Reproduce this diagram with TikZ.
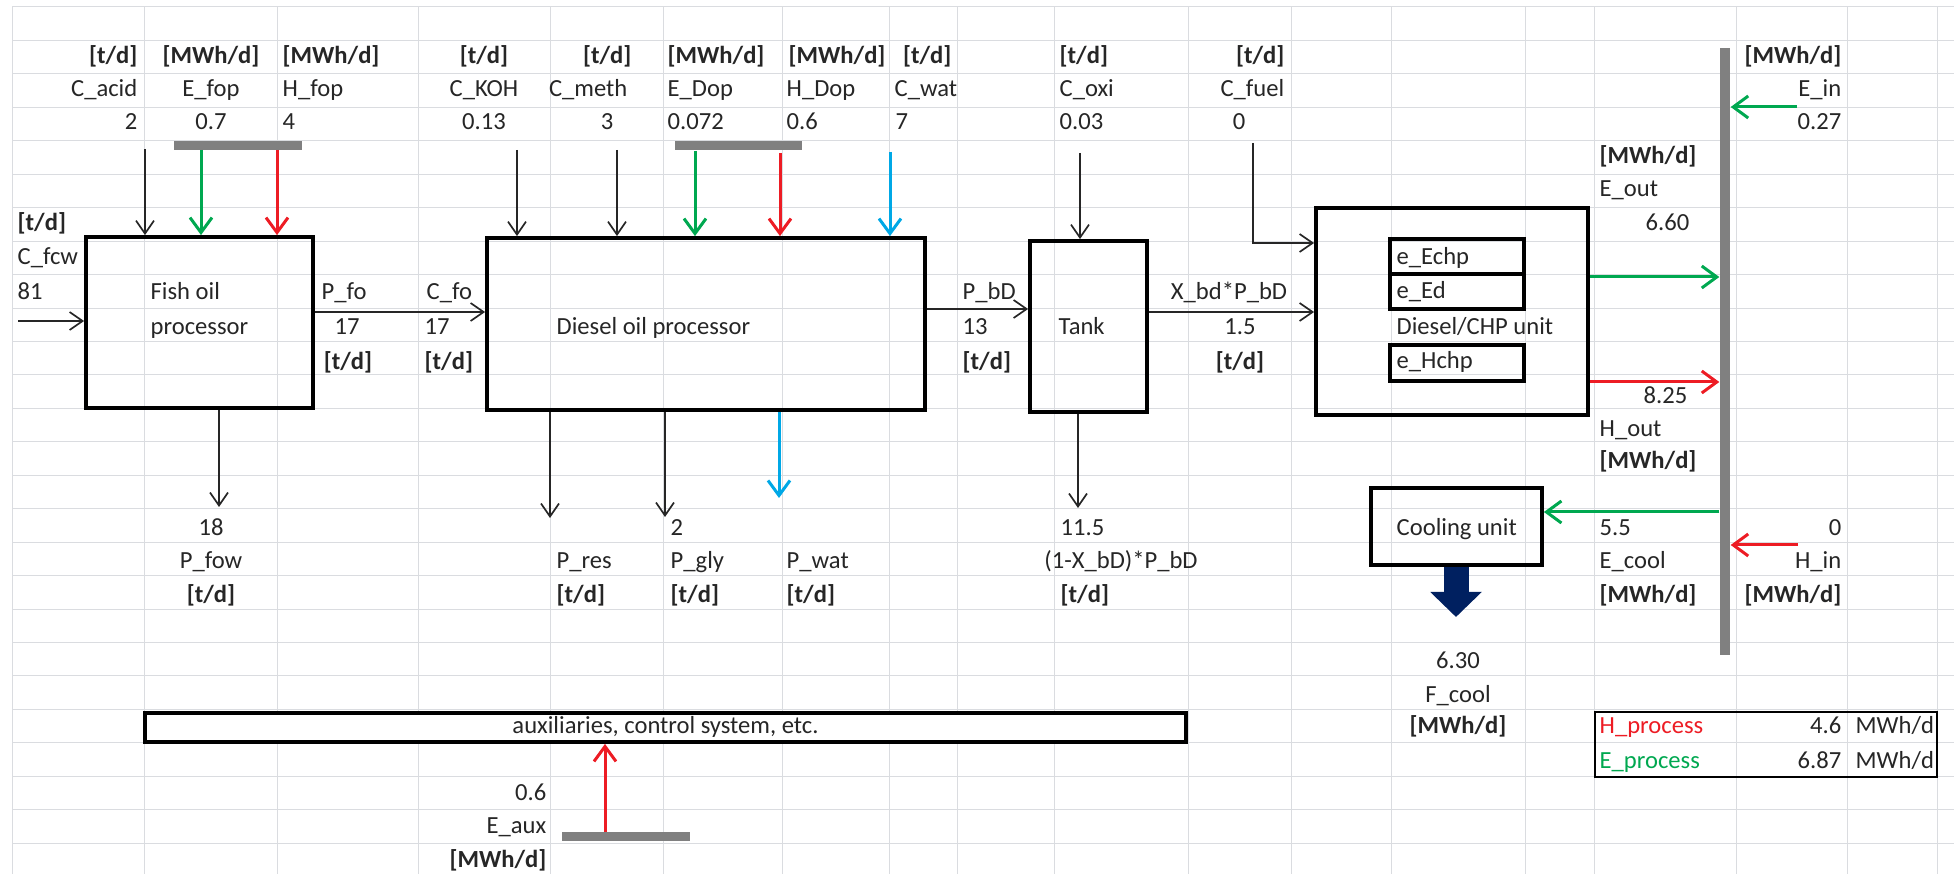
\documentclass[tikz,border=0pt]{standalone}
\usepackage{fontspec}
\setmainfont{Carlito}
\usetikzlibrary{arrows.meta,positioning,calc}
\definecolor{BdInk}{RGB}{38,38,38}
\definecolor{BdGrid}{RGB}{218,220,224}
\definecolor{BdBar}{RGB}{128,128,128}
\definecolor{BdGreen}{RGB}{0,168,80}
\definecolor{BdRed}{RGB}{237,28,36}
\definecolor{BdBlue}{RGB}{0,168,230}
\definecolor{BdNavy}{RGB}{0,32,96}
\tikzset{
  bd/grid/.style={draw=BdGrid, line width=0.1mm},
  bd/box/.style={draw=black, line width=0.38mm, inner sep=0pt},
  bd/cell/.style={
    inner sep=0pt,
    text height=1.65mm,
    text depth=0.5mm,
    text=BdInk,
    font=\fontsize{7}{8}\selectfont
  },
  bd/unit/.style={bd/cell, font=\fontsize{7}{8}\selectfont\bfseries},
  bd/bar/.style={fill=BdBar, inner sep=0pt, minimum height=0.9mm},
  bd/arrow/.style={-{Straight Barb[length=1.3mm,width=1.8mm]}, line width=0.17mm, draw=BdInk},
  bd/green/.style={-{Straight Barb[length=1.5mm,width=2.2mm]}, line width=0.3mm, draw=BdGreen},
  bd/red/.style={bd/green, draw=BdRed},
  bd/blue/.style={bd/green, draw=BdBlue},
  bd/cold/.style={-{Triangle[length=2.5mm,width=5mm]}, line width=2.5mm, draw=BdNavy}
}
\begin{document}
\begin{tikzpicture}[x=0.1mm,y=-0.1mm]
  \useasboundingbox (0,0) rectangle (1954,874);
  \foreach \gx in {12,144,277,418,550,663,782,889,957,1054,1188,1291,1391,1525,1594,1736,1847,1937}
    \draw[bd/grid] (\gx,7) -- (\gx,874);
  \foreach \k in {0,...,25}
    \draw[bd/grid] (12,{7+33.45*\k}) -- (1954,{7+33.45*\k});

  \node[bd/box, minimum width=22.7mm, minimum height=17.1mm] (fop) at (199.5,322.5) {};
  \node[bd/box, minimum width=43.8mm, minimum height=17.2mm] (dop) at (706,324) {};
  \node[bd/box, minimum width=11.7mm, minimum height=17.1mm] (tank) at (1088.5,326.5) {};
  \node[bd/box, minimum width=27.2mm, minimum height=20.7mm] (chp) at (1452,311.5) {};
  \node[bd/box, minimum width=13.4mm, minimum height=3.5mm] (echp) at (1457,256.5) {};
  \node[bd/box, minimum width=13.4mm, minimum height=3.5mm] (ed) at (1457,291.5) {};
  \node[bd/box, minimum width=13.4mm, minimum height=3.6mm] (hchp) at (1457,363) {};
  \node[bd/box, minimum width=17.1mm, minimum height=7.7mm] (cool) at (1456.5,526.5) {};
  \node[bd/cell, bd/box, fill=white, minimum width=104.1mm, minimum height=2.9mm] (aux) at (665.5,727.5) {auxiliaries, control system, etc.};
  \node[bd/box, line width=0.22mm, minimum width=34.2mm, minimum height=6.5mm] (legend) at (1766,744.5) {};

  \node[bd/bar, minimum width=12.8mm] (fopbar) at (238,146) {};
  \node[bd/bar, minimum width=12.7mm] (dopbar) at (738.5,146) {};
  \node[bd/bar, minimum width=12.8mm] (auxbar) at (626,836) {};
  \node[fill=BdBar, inner sep=0pt, minimum width=1mm, minimum height=60.7mm] (busbar) at (1725,351.5) {};

  \node[bd/cell, anchor=west] (fop-t1) at (150,294) {Fish oil};
  \node[bd/cell, anchor=west] (fop-t2) at (150,329) {processor};
  \node[bd/cell, anchor=west] (dop-t) at (556,329) {Diesel oil processor};
  \node[bd/cell, anchor=west] (tank-t) at (1058,329) {Tank};
  \node[bd/cell, anchor=west] (echp-t) at (1396,259) {e\_Echp};
  \node[bd/cell, anchor=west] (ed-t) at (1396,293) {e\_Ed};
  \node[bd/cell, anchor=west] (chp-t) at (1396,329) {Diesel/CHP unit};
  \node[bd/cell, anchor=west] (hchp-t) at (1396,363) {e\_Hchp};
  \node[bd/cell, anchor=west] (cool-t) at (1396,530) {Cooling unit};

  \node[bd/unit, anchor=east] (cacid-u) at (138,58) {[t/d]};
  \node[bd/cell, anchor=east] (cacid-n) at (138,91) {C\_acid};
  \node[bd/cell, anchor=east] (cacid-v) at (138,124) {2};
  \node[bd/unit] (efop-u) at (211,58) {[MWh/d]};
  \node[bd/cell] (efop-n) at (211,91) {E\_fop};
  \node[bd/cell] (efop-v) at (211,124) {0.7};
  \node[bd/unit, anchor=west] (hfop-u) at (282,58) {[MWh/d]};
  \node[bd/cell, anchor=west] (hfop-n) at (282,91) {H\_fop};
  \node[bd/cell, anchor=west] (hfop-v) at (282,124) {4};
  \node[bd/unit] (ckoh-u) at (484,58) {[t/d]};
  \node[bd/cell] (ckoh-n) at (484,91) {C\_KOH};
  \node[bd/cell] (ckoh-v) at (484,124) {0.13};
  \node[bd/unit, anchor=east] (cmeth-u) at (632,58) {[t/d]};
  \node[bd/cell, anchor=east] (cmeth-n) at (628,91) {C\_meth};
  \node[bd/cell] (cmeth-v) at (607,124) {3};
  \node[bd/unit, anchor=west] (edop-u) at (667,58) {[MWh/d]};
  \node[bd/cell, anchor=west] (edop-n) at (667,91) {E\_Dop};
  \node[bd/cell, anchor=west] (edop-v) at (667,124) {0.072};
  \node[bd/unit, anchor=west] (hdop-u) at (788,58) {[MWh/d]};
  \node[bd/cell, anchor=west] (hdop-n) at (786,91) {H\_Dop};
  \node[bd/cell, anchor=west] (hdop-v) at (786,124) {0.6};
  \node[bd/unit, anchor=east] (cwat-u) at (952,58) {[t/d]};
  \node[bd/cell, anchor=west] (cwat-n) at (894,91) {C\_wat};
  \node[bd/cell, anchor=west] (cwat-v) at (895,124) {7};
  \node[bd/unit, anchor=west] (coxi-u) at (1059,58) {[t/d]};
  \node[bd/cell, anchor=west] (coxi-n) at (1059,91) {C\_oxi};
  \node[bd/cell, anchor=west] (coxi-v) at (1059,124) {0.03};
  \node[bd/unit, anchor=east] (cfuel-u) at (1285,58) {[t/d]};
  \node[bd/cell, anchor=east] (cfuel-n) at (1285,91) {C\_fuel};
  \node[bd/cell] (cfuel-v) at (1239,124) {0};
  \node[bd/unit, anchor=east] (ein-u) at (1842,58) {[MWh/d]};
  \node[bd/cell, anchor=east] (ein-n) at (1842,91) {E\_in};
  \node[bd/cell, anchor=east] (ein-v) at (1842,124) {0.27};
  \node[bd/unit, anchor=west] (eout-u) at (1599,158) {[MWh/d]};
  \node[bd/cell, anchor=west] (eout-n) at (1599,191) {E\_out};
  \node[bd/cell, anchor=east] (eout-v) at (1690,225) {6.60};

  \node[bd/unit, anchor=west] (cfcw-u) at (17,225) {[t/d]};
  \node[bd/cell, anchor=west] (cfcw-n) at (17,259) {C\_fcw};
  \node[bd/cell, anchor=west] (cfcw-v) at (17,294) {81};
  \node[bd/cell, anchor=west] (pfo-n) at (321,294) {P\_fo};
  \node[bd/cell] (pfo-v) at (347,329) {17};
  \node[bd/unit] (pfo-u) at (348,364) {[t/d]};
  \node[bd/cell, anchor=west] (cfo-n) at (426,294) {C\_fo};
  \node[bd/cell, anchor=west] (cfo-v) at (424,329) {17};
  \node[bd/unit, anchor=west] (cfo-u) at (424,364) {[t/d]};
  \node[bd/cell, anchor=west] (pbd-n) at (962,294) {P\_bD};
  \node[bd/cell, anchor=west] (pbd-v) at (962,329) {13};
  \node[bd/unit, anchor=west] (pbd-u) at (962,364) {[t/d]};
  \node[bd/cell] (xbd-n) at (1229,294) {X\_bd*P\_bD};
  \node[bd/cell] (xbd-v) at (1240,329) {1.5};
  \node[bd/unit] (xbd-u) at (1240,364) {[t/d]};
  \node[bd/cell, anchor=east] (hout-v) at (1688,398) {8.25};
  \node[bd/cell, anchor=west] (hout-n) at (1599,431) {H\_out};
  \node[bd/unit, anchor=west] (hout-u) at (1599,463) {[MWh/d]};

  \node[bd/cell] (pfow-v) at (211,530) {18};
  \node[bd/cell] (pfow-n) at (211,563) {P\_fow};
  \node[bd/unit] (pfow-u) at (211,597) {[t/d]};
  \node[bd/cell, anchor=west] (pres-n) at (556,563) {P\_res};
  \node[bd/unit, anchor=west] (pres-u) at (556,597) {[t/d]};
  \node[bd/cell, anchor=west] (pgly-v) at (670,530) {2};
  \node[bd/cell, anchor=west] (pgly-n) at (670,563) {P\_gly};
  \node[bd/unit, anchor=west] (pgly-u) at (670,597) {[t/d]};
  \node[bd/cell, anchor=west] (pwat-n) at (786,563) {P\_wat};
  \node[bd/unit, anchor=west] (pwat-u) at (786,597) {[t/d]};
  \node[bd/cell, anchor=west] (rest-v) at (1060,530) {11.5};
  \node[bd/cell] (rest-n) at (1121,563) {(1-X\_bD)*P\_bD};
  \node[bd/unit, anchor=west] (rest-u) at (1060,597) {[t/d]};
  \node[bd/cell, anchor=west] (ecool-v) at (1599,530) {5.5};
  \node[bd/cell, anchor=west] (ecool-n) at (1599,563) {E\_cool};
  \node[bd/unit, anchor=west] (ecool-u) at (1599,597) {[MWh/d]};
  \node[bd/cell, anchor=east] (hin-v) at (1842,530) {0};
  \node[bd/cell, anchor=east] (hin-n) at (1842,563) {H\_in};
  \node[bd/unit, anchor=east] (hin-u) at (1842,597) {[MWh/d]};
  \node[bd/cell] (fcool-v) at (1458,663) {6.30};
  \node[bd/cell] (fcool-n) at (1458,697) {F\_cool};
  \node[bd/unit] (fcool-u) at (1458,728) {[MWh/d]};
  \node[bd/cell, anchor=east] (eaux-v) at (547,795) {0.6};
  \node[bd/cell, anchor=east] (eaux-n) at (547,828) {E\_aux};
  \node[bd/unit, anchor=east] (eaux-u) at (547,862) {[MWh/d]};

  \node[bd/cell, anchor=west, text=BdRed] (hproc-n) at (1599,728) {H\_process};
  \node[bd/cell, anchor=east] (hproc-v) at (1842,728) {4.6};
  \node[bd/cell, anchor=west] (hproc-u) at (1855,728) {MWh/d};
  \node[bd/cell, anchor=west, text=BdGreen] (eproc-n) at (1599,763) {E\_process};
  \node[bd/cell, anchor=east] (eproc-v) at (1842,763) {6.87};
  \node[bd/cell, anchor=west] (eproc-u) at (1855,763) {MWh/d};

  \coordinate (acidsrc) at (145,149);
  \coordinate (fcwsrc) at (18,321);
  \coordinate (pforow) at (400,312);
  \coordinate (fowend) at (219,507);
  \coordinate (kohsrc) at (517,150);
  \coordinate (methsrc) at (617,150);
  \coordinate (resend) at (550,518);
  \coordinate (glyend) at (665,517);
  \coordinate (watend) at (779,498);
  \coordinate (pbdrow) at (980,309);
  \coordinate (oxisrc) at (1080,153);
  \coordinate (restend) at (1078,508);
  \coordinate (fuelsrc) at (1253,143);
  \coordinate (fuelrow) at (1253,243);
  \coordinate (xbdrow) at (1200,312);
  \coordinate (efopsrc) at (201,150);
  \coordinate (hfopsrc) at (277,150);
  \coordinate (edopsrc) at (695,151);
  \coordinate (hdopsrc) at (780,153);
  \coordinate (watsrc) at (890,152);
  \coordinate (eoutrow) at (1650,277);
  \coordinate (houtrow) at (1650,382);
  \coordinate (einsrc) at (1797,107);
  \coordinate (hinsrc) at (1798,545);
  \coordinate (coolrow) at (1650,512);
  \coordinate (auxsrc) at (605,832);
  \coordinate (coldtip) at (1456,617);

  \draw[bd/arrow] (acidsrc) -- (acidsrc |- fop.north);
  \draw[bd/arrow] (fcwsrc) -- (fcwsrc -| fop.west);
  \draw[bd/arrow] (fop.east |- pforow) -- (dop.west |- pforow);
  \draw[bd/arrow] (fop.south -| fowend) -- (fowend);
  \draw[bd/arrow] (kohsrc) -- (kohsrc |- dop.north);
  \draw[bd/arrow] (methsrc) -- (methsrc |- dop.north);
  \draw[bd/arrow] (dop.south -| resend) -- (resend);
  \draw[bd/arrow] (dop.south -| glyend) -- (glyend);
  \draw[bd/arrow] (dop.east |- pbdrow) -- (tank.west |- pbdrow);
  \draw[bd/arrow] (oxisrc) -- (oxisrc |- tank.north);
  \draw[bd/arrow] (tank.south -| restend) -- (restend);
  \draw[bd/arrow] (fuelsrc) -- (fuelrow) -- (fuelrow -| chp.west);
  \draw[bd/arrow] (tank.east |- xbdrow) -- (chp.west |- xbdrow);

  \draw[bd/green] (efopsrc) -- (efopsrc |- fop.north);
  \draw[bd/red] (hfopsrc) -- (hfopsrc |- fop.north);
  \draw[bd/green] (edopsrc) -- (edopsrc |- dop.north);
  \draw[bd/red] (hdopsrc) -- (hdopsrc |- dop.north);
  \draw[bd/blue] (watsrc) -- (watsrc |- dop.north);
  \draw[bd/blue] (dop.south -| watend) -- (watend);
  \draw[bd/green] (chp.east |- eoutrow) -- (busbar.west |- eoutrow);
  \draw[bd/red] (chp.east |- houtrow) -- (busbar.west |- houtrow);
  \draw[bd/green] (einsrc) -- (einsrc -| busbar.east);
  \draw[bd/red] (hinsrc) -- (hinsrc -| busbar.east);
  \draw[bd/green] (busbar.west |- coolrow) -- (cool.east |- coolrow);
  \draw[bd/red] (auxsrc) -- (auxsrc |- aux.south);
  \draw[bd/cold] (cool.south -| coldtip) -- (coldtip);
\end{tikzpicture}
\end{document}
